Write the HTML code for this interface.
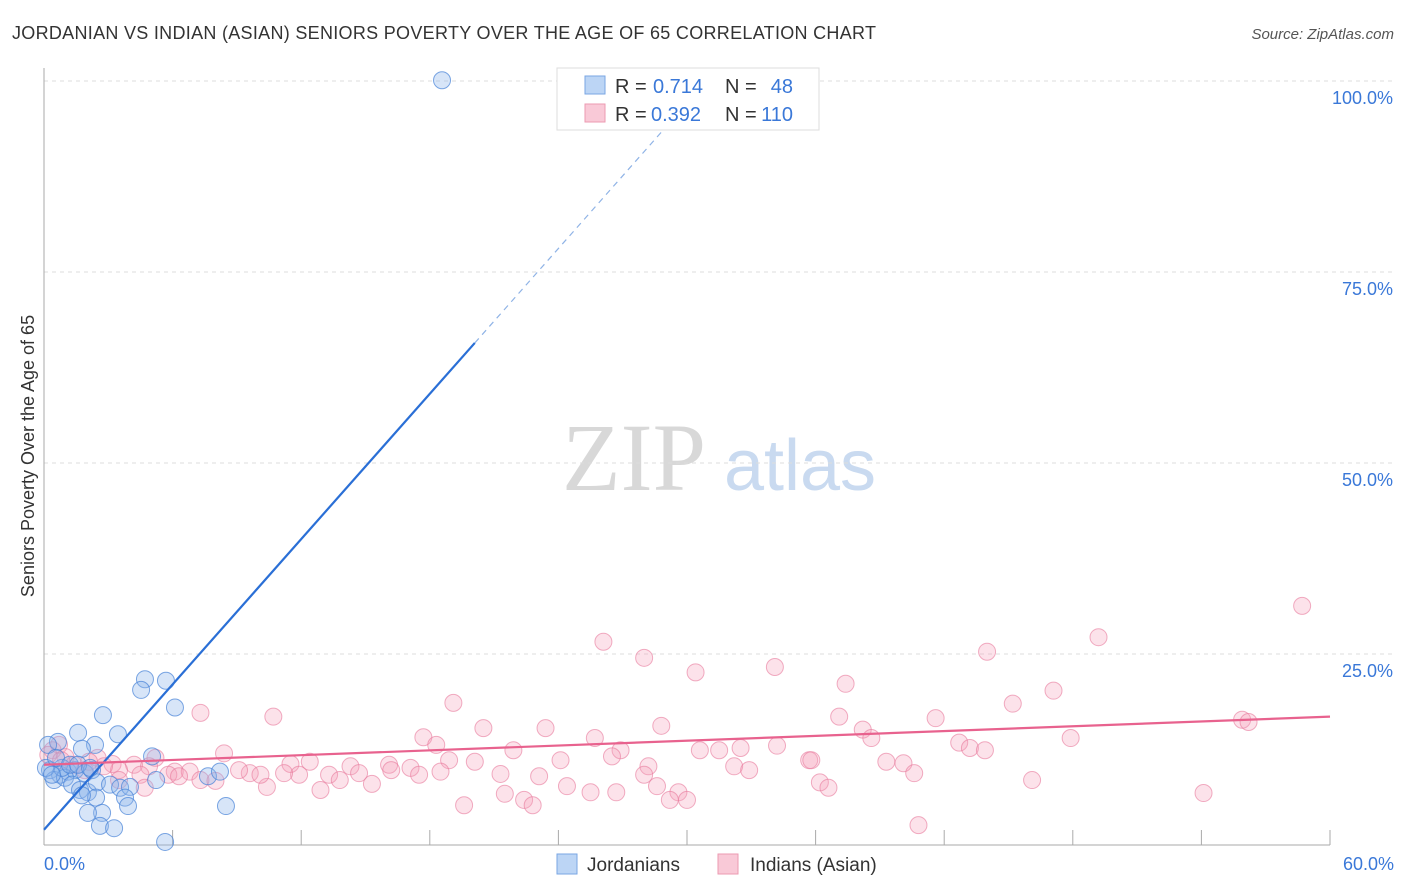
<!DOCTYPE html>
<html><head><meta charset="utf-8"><style>
body{margin:0;background:#fff;font-family:"Liberation Sans",sans-serif}
svg{display:block}
</style></head><body>
<svg id="chart" width="1406" height="892" xmlns="http://www.w3.org/2000/svg">
<text x="12" y="39" font-size="18" fill="#333" textLength="864">JORDANIAN VS INDIAN (ASIAN) SENIORS POVERTY OVER THE AGE OF 65 CORRELATION CHART</text>
<text x="1394" y="39" font-size="15" fill="#555" font-style="italic" text-anchor="end">Source: ZipAtlas.com</text>
<g>
<text x="634" y="490" font-size="96" fill="#d8d8d8" font-family="Liberation Serif,serif" text-anchor="middle">ZIP</text>
<text x="800" y="490" font-size="72" fill="#c9daf0" text-anchor="middle">atlas</text>
</g>
<g id="grid"></g>
<g id="axes"></g>
<g id="pts"></g>
<g id="lines"></g>
<text x="34" y="456" font-size="18" fill="#333" transform="rotate(-90 34 456)" text-anchor="middle">Seniors Poverty Over the Age of 65</text>
<text x="44" y="870" font-size="18" fill="#3a78d8">0.0%</text>
<text x="1394" y="870" font-size="18" fill="#3a78d8" text-anchor="end">60.0%</text>
<g>
<rect x="557" y="68" width="262" height="62" fill="#fff" stroke="#ddd"/>
<rect x="585" y="76" width="20" height="18" fill="#bcd5f5" stroke="#7aa6e3"/>
<rect x="585" y="104" width="20" height="18" fill="#f9c9d7" stroke="#ec9ab2"/>
<text x="615" y="93" font-size="20" fill="#333">R =</text>
<text x="653" y="93" font-size="20" fill="#3a78d8">0.714</text>
<text x="725" y="93" font-size="20" fill="#333">N =</text>
<text x="793" y="93" font-size="20" fill="#3a78d8" text-anchor="end">48</text>
<text x="615" y="121" font-size="20" fill="#333">R =</text>
<text x="651" y="121" font-size="20" fill="#3a78d8">0.392</text>
<text x="725" y="121" font-size="20" fill="#333">N =</text>
<text x="793" y="121" font-size="20" fill="#3a78d8" text-anchor="end">110</text>
</g>
<g>
<rect x="557" y="854" width="20" height="20" fill="#bcd5f5" stroke="#7aa6e3"/>
<text x="587" y="871" font-size="19" fill="#333">Jordanians</text>
<rect x="718" y="854" width="20" height="20" fill="#f9c9d7" stroke="#ec9ab2"/>
<text x="750" y="871" font-size="19" fill="#333">Indians (Asian)</text>
</g>
</svg>
<script>
const blueX=[18.57,4.71,5.69,4.53,6.11,2.75,1.59,3.45,0.65,2.38,1.77,5.04,0.19,0.28,0.75,1.12,1.45,1.91,2.24,0.47,0.98,1.31,1.68,2.05,2.47,3.08,3.55,4.01,5.23,7.65,8.21,2.43,3.78,1.77,3.92,2.71,2.05,2.61,3.27,8.49,5.65,0.84,0.09,0.56,1.21,1.59,2.15,0.37];
const blueY=[100.1,21.7,21.5,20.3,18.0,17.0,14.7,14.5,13.5,13.1,12.6,11.6,13.1,9.8,9.2,9.6,9.8,9.4,9.8,8.5,8.8,7.9,7.2,6.9,8.2,7.9,7.5,7.6,8.5,9.0,9.6,6.2,6.2,6.5,5.1,4.2,4.2,2.5,2.2,5.1,0.4,10.1,10.1,11.4,10.5,10.5,10.1,9.2];
const pinkX=[26.1,28.0,30.4,34.1,37.4,44.0,49.2,58.7,47.1,45.2,55.9,19.1,7.3,10.7,37.1,41.6,28.8,23.4,20.5,38.2,47.9,25.7,17.7,0.7,8.4,1.0,2.5,5.2,3.2,4.2,6.1,6.8,9.6,11.5,12.4,13.3,14.3,16.1,17.1,18.9,20.1,21.9,23.1,24.1,26.9,28.2,30.6,31.5,32.2,32.5,34.2,35.7,38.6,39.3,40.1,40.6,42.7,43.2,43.9,11.9,12.9,13.8,15.3,16.2,17.5,18.5,21.3,21.5,22.4,22.8,24.4,25.5,26.7,28.6,29.6,30.0,29.2,36.2,36.6,46.1,54.1,40.8,19.6,10.4,9.1,7.3,8.0,4.9,4.5,3.5,2.8,1.9,1.4,0.4,0.2,0.8,2.1,3.5,4.7,5.8,6.3,10.1,11.2,14.7,18.3,26.5,28.0,32.9,35.8,56.2];
const pinkY=[26.6,24.5,22.6,23.3,21.1,25.3,27.2,31.3,20.2,18.5,16.4,18.6,17.3,16.8,16.8,16.6,15.6,15.3,15.3,15.1,14.0,14.0,14.1,13.1,12.0,11.5,11.4,11.4,10.6,10.5,9.6,9.6,9.4,10.6,10.9,9.2,10.3,10.5,10.1,11.1,10.9,12.4,9.0,11.1,12.4,10.3,12.4,12.4,10.3,12.7,13.0,11.1,14.0,10.9,10.7,9.4,13.4,12.7,12.4,9.2,7.2,8.5,8.0,9.8,9.2,9.6,9.3,6.7,5.9,5.2,7.7,6.9,6.9,7.7,6.9,5.9,5.9,8.2,7.5,8.5,6.8,2.6,5.2,7.6,9.8,8.5,8.4,10.3,9.2,9.8,10.3,9.8,10.5,12.4,11.8,11.1,10.9,8.5,7.5,9.2,9.0,9.2,9.4,9.4,13.1,11.6,9.2,9.8,11.1,16.1];
const blueFit=[2.0,3.17];
const pinkFit=[10.5,0.105];
const yTicks=[25,50,75,100];
const NS='http://www.w3.org/2000/svg';
const sx=v=>44+v*(1286/60);
const sy=v=>845-v*7.64;
function mk(tag,attrs,parent){const e=document.createElementNS(NS,tag);for(const k in attrs)e.setAttribute(k,attrs[k]);parent.appendChild(e);return e;}
const grid=document.getElementById('grid'),axes=document.getElementById('axes'),pts=document.getElementById('pts'),lines=document.getElementById('lines');
yTicks.forEach(t=>{
 const l=mk('line',{x1:44,x2:1394,y1:sy(t),y2:sy(t),stroke:'#ddd','stroke-dasharray':'4,4'},grid);
 
 
 const tx=mk('text',{x:1393,y:sy(t)+23,'font-size':18,fill:'#3a78d8','text-anchor':'end'},grid);
 tx.textContent=t.toFixed(1)+'%';
 
 
});
mk('line',{x1:44,x2:44,y1:68,y2:845,stroke:'#aaa'},axes);
mk('line',{x1:44,x2:1330,y1:845,y2:845,stroke:'#aaa'},axes);
for(let i=1;i<=10;i++){const t=mk('line',{x1:sx(i*6),x2:sx(i*6),y1:845,y2:830,stroke:'#aaa'},axes);
 
 }
pinkX.forEach((x,i)=>{const c=mk('circle',{cx:sx(x),cy:sy(pinkY[i]),r:8.5,fill:'rgba(244,160,185,0.3)',stroke:'rgba(232,120,155,0.6)','stroke-width':1},pts);
 
 });
blueX.forEach((x,i)=>{const c=mk('circle',{cx:sx(x),cy:sy(blueY[i]),r:8.5,fill:'rgba(140,180,235,0.35)',stroke:'rgba(70,130,215,0.7)','stroke-width':1},pts);
 
 });
const bl=mk('line',{x1:sx(0),y1:sy(blueFit[0]),x2:sx(20.1),y2:sy(blueFit[0]+blueFit[1]*20.1),stroke:'#2a6fd6','stroke-width':2.2},lines);


const bd=mk('line',{x1:sx(20.1),y1:sy(blueFit[0]+blueFit[1]*20.1),x2:sx(29),y2:sy(blueFit[0]+blueFit[1]*29),stroke:'#8fb3e6','stroke-width':1.2,'stroke-dasharray':'6,5'},lines);


const pl=mk('line',{x1:sx(0),y1:sy(pinkFit[0]),x2:sx(60),y2:sy(pinkFit[0]+pinkFit[1]*60),stroke:'#e8628e','stroke-width':2.2},lines);


</script>
</body></html>
